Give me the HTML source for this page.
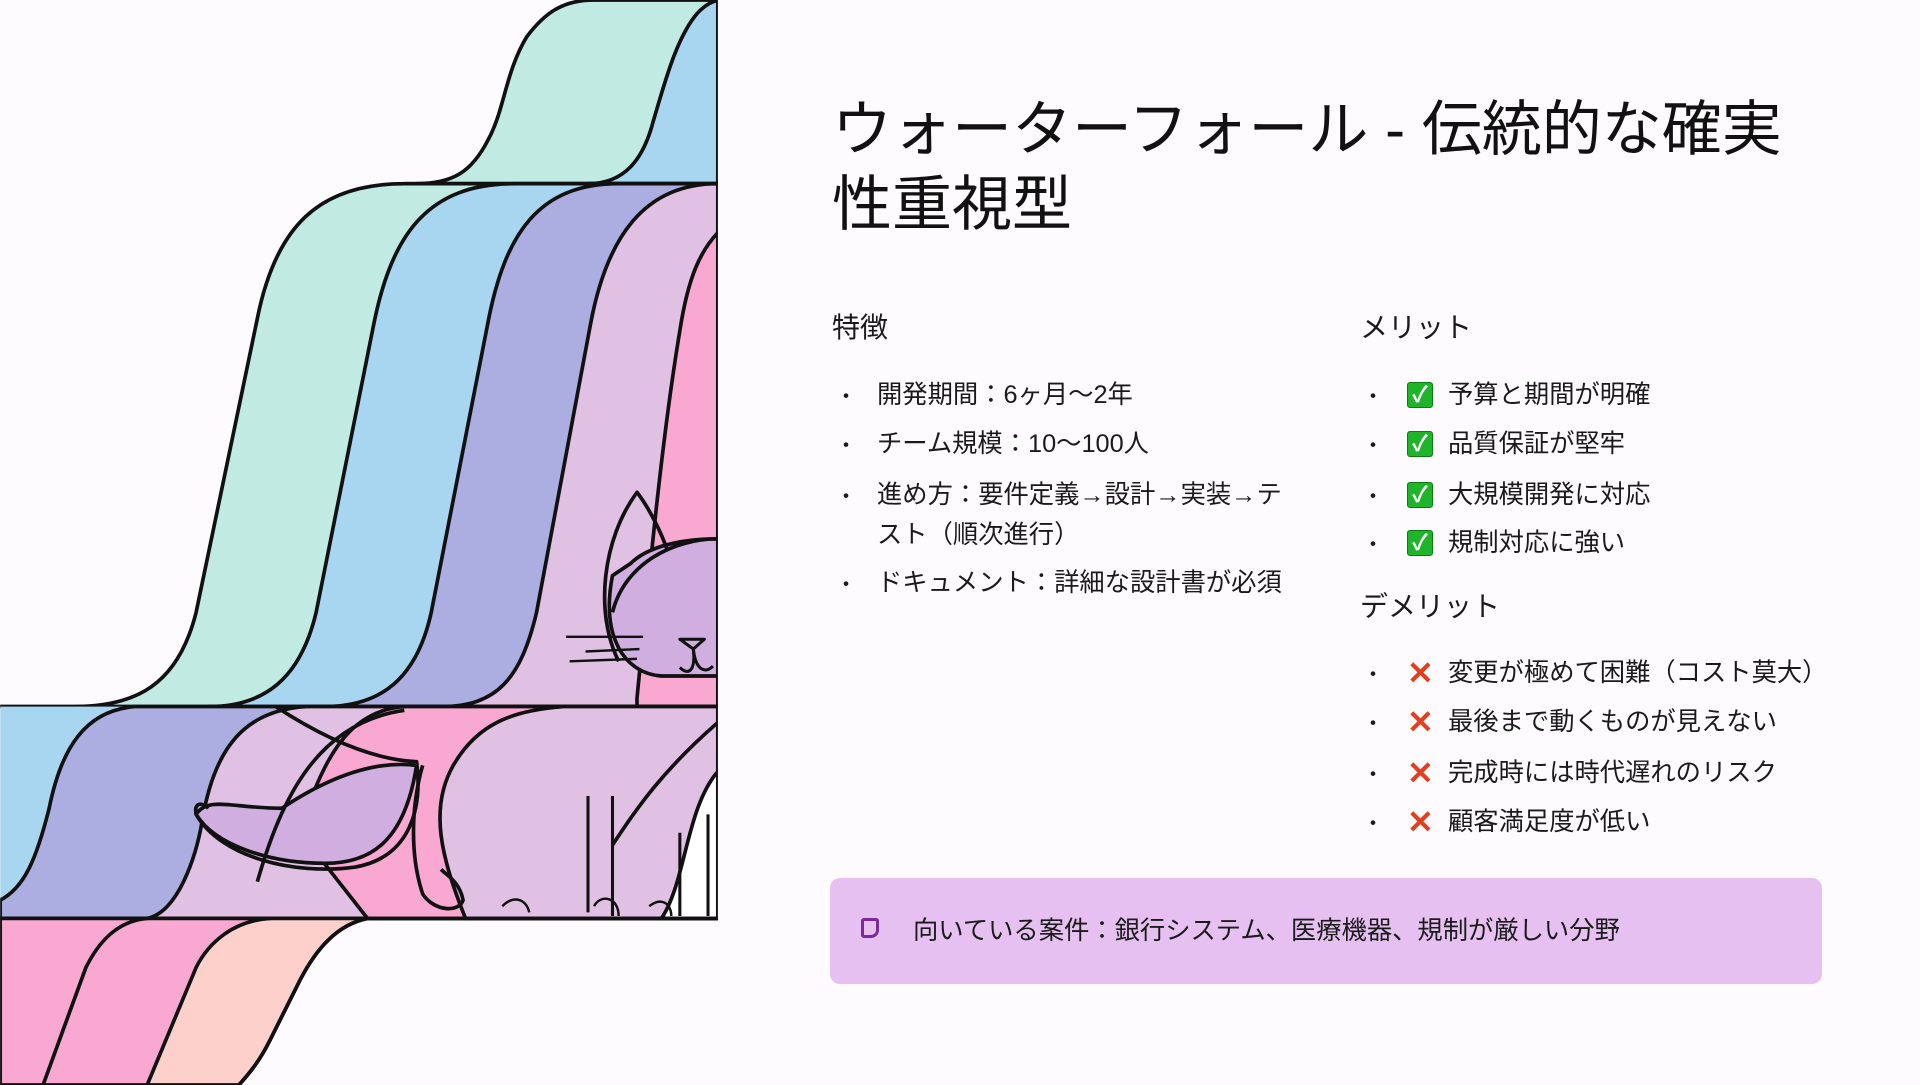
<!DOCTYPE html>
<html><head><meta charset="utf-8"><style>
html,body{margin:0;padding:0}
body{width:1920px;height:1085px;position:relative;overflow:hidden;background:#fdfbfd;font-family:"Liberation Sans","Noto Sans CJK JP",sans-serif;color:#1a1a1a}
.abs{position:absolute;white-space:nowrap}
.title{left:832px;top:92px;font-size:60px;line-height:75px;color:#111;white-space:normal;width:1005px}
.h{font-size:28px;line-height:34px}
.li{font-size:25.3px;line-height:32px}
.dot{font-size:22px}
.ck{width:26px;height:26px;background:#1fb52a;border-radius:3px;border:1px solid #0d7a15;box-sizing:border-box;color:#fff;font-size:22px;line-height:24px;text-align:center;font-weight:bold}
.x{color:#e0401f;font-size:32px;font-weight:bold;line-height:32px}
.box{left:830px;top:878px;width:992px;height:106px;background:#e6c0f1;border-radius:10px}
</style></head><body>
<svg class="abs" style="left:0;top:0" width="718" height="1085" viewBox="0 0 586 886">
<defs><clipPath id="c"><rect x="0" y="0" width="586" height="886"/></clipPath></defs>
<g clip-path="url(#c)" stroke="#111" stroke-width="3" stroke-linejoin="round">
<path d="M340,150 C370,150 385,140 398,115 C412,90 412,60 430,30 C445,10 460,0 485,0 L586,0 L586,150 Z" fill="#c1ebe2"/>
<path d="M480,150 C510,150 525,130 533,100 C542,70 552,30 570,10 C576,4 580,2 586,0 L586,150 Z" fill="#a8d5f0"/>
<path d="M0,577 L60,577 C110,577 145,560 160,500 L210,260 C225,185 260,150 330,150 L586,150 L586,577 Z" fill="#c1ebe2"/>
<path d="M170,577 C215,577 245,555 258,500 L305,265 C320,190 350,150 420,150 L586,150 L586,577 Z" fill="#a8d5f0"/>
<path d="M265,577 C310,577 340,555 352,500 L398,265 C412,190 440,150 505,150 L586,150 L586,577 Z" fill="#acaee2"/>
<path d="M360,577 C405,577 425,555 438,500 L482,265 C495,195 525,150 586,150 L586,577 Z" fill="#e0c0e3"/>
<path d="M520,570 C530,470 540,360 555,270 C562,225 572,205 586,190 L586,577 L520,577 Z" fill="#f9a8d2"/>
<line x1="0" y1="577" x2="586" y2="577"/>
<line x1="330" y1="150" x2="586" y2="150"/>
<rect x="0" y="577" width="586" height="173" fill="#a8d5f0" stroke="none"/>
<path d="M0,735 C20,725 30,700 40,660 C50,610 70,580 110,577 L586,577 L586,750 L0,750 Z" fill="#acaee2"/>
<path d="M120,750 C145,745 160,700 165,670 C175,610 200,580 250,577 L586,577 L586,750 Z" fill="#e0c0e3"/>
<path d="M245,680 C265,610 290,580 330,577 L586,577 L586,750 L300,750 Z" fill="#f9a8d2"/>
<path d="M380,750 C360,700 350,660 370,625 C390,590 420,580 460,577 L586,577 L586,750 Z" fill="#e0c0e3"/>
<path d="M540,750 C560,720 560,660 586,630 L586,750 Z" fill="#fff"/>
<path d="M230,660 C190,660 170,650 160,665 C175,690 220,705 265,705 C300,705 330,690 340,625 C300,620 260,640 230,660 Z" fill="#d1aee0"/>
<line x1="0" y1="750" x2="586" y2="750"/>
<path d="M500,470 C490,520 510,550 540,552 L586,552 L586,440 C560,440 530,445 515,460 Z" fill="#d1aee0"/>
<path d="M505,540 C485,500 492,440 520,402 C530,415 540,435 545,450" fill="none"/>
<path d="M500,500 C510,460 550,440 586,440" fill="none"/>
<path d="M462,520 L525,520 M465,540 L520,538 M478,532 L522,530" fill="none" stroke-width="2"/>
<path d="M555,522 L575,522 L566,530 Z M555,545 C562,552 568,548 566,530 C568,548 576,550 582,544" fill="none" stroke-width="2.5"/>
<path d="M225,577 C260,600 300,620 340,622 C345,660 335,700 290,708 C240,715 180,700 160,665 C158,655 165,655 170,660" fill="none"/>
<path d="M210,720 C230,650 260,590 330,580" fill="none"/>
<path d="M345,625 C335,660 335,700 345,730 C355,745 375,745 378,735 C375,720 365,715 360,710" fill="none"/>
<path d="M480,650 L480,745 M500,650 L500,748 M555,680 L555,748 M578,665 L578,748" fill="none" stroke-width="2.5"/>
<path d="M410,740 C420,730 430,735 432,745 M485,740 C490,730 505,732 505,748 M530,740 C540,732 548,738 548,748" fill="none" stroke-width="2"/>
<path d="M500,690 C520,660 540,630 586,590" fill="none"/>
<path d="M0,750 L300,750 C275,755 258,775 245,800 L220,850 C210,870 200,880 195,886 L0,886 Z" fill="#fdd0cc"/>
<path d="M0,750 L220,750 C190,752 170,770 160,790 L120,886 L0,886 Z" fill="#f9a8d2"/>
<path d="M0,750 L120,750 C95,752 80,770 70,790 L35,886 L0,886 Z" fill="#f9a8d2"/>
<path d="M300,750 C275,755 258,775 245,800 L220,850 C210,870 200,880 195,886" fill="none"/>
</g>
</svg>

<div class="abs title">ウォーターフォール - 伝統的な確実性重視型</div>

<div class="abs h" style="left:832px;top:311px">特徴</div>
<div class="abs dot" style="left:835px;top:379px">・</div><div class="abs li" style="left:877px;top:379px">開発期間：6ヶ月〜2年</div>
<div class="abs dot" style="left:835px;top:428px">・</div><div class="abs li" style="left:877px;top:428px">チーム規模：10〜100人</div>
<div class="abs dot" style="left:835px;top:479px">・</div><div class="abs li" style="left:877px;top:479px">進め方：要件定義→設計→実装→テ</div>
<div class="abs li" style="left:877px;top:519px">スト（順次進行）</div>
<div class="abs dot" style="left:835px;top:567px">・</div><div class="abs li" style="left:877px;top:567px">ドキュメント：詳細な設計書が必須</div>

<div class="abs h" style="left:1360px;top:311px">メリット</div>
<div class="abs dot" style="left:1362px;top:379px">・</div><div class="abs ck" style="left:1407px;top:382px">✓</div><div class="abs li" style="left:1448px;top:379px">予算と期間が明確</div>
<div class="abs dot" style="left:1362px;top:428px">・</div><div class="abs ck" style="left:1407px;top:431px">✓</div><div class="abs li" style="left:1448px;top:428px">品質保証が堅牢</div>
<div class="abs dot" style="left:1362px;top:479px">・</div><div class="abs ck" style="left:1407px;top:482px">✓</div><div class="abs li" style="left:1448px;top:479px">大規模開発に対応</div>
<div class="abs dot" style="left:1362px;top:527px">・</div><div class="abs ck" style="left:1407px;top:530px">✓</div><div class="abs li" style="left:1448px;top:527px">規制対応に強い</div>

<div class="abs h" style="left:1360px;top:590px">デメリット</div>
<div class="abs dot" style="left:1362px;top:657px">・</div><div class="abs x" style="left:1407px;top:657px">✕</div><div class="abs li" style="left:1448px;top:657px">変更が極めて困難（コスト莫大）</div>
<div class="abs dot" style="left:1362px;top:706px">・</div><div class="abs x" style="left:1407px;top:706px">✕</div><div class="abs li" style="left:1448px;top:706px">最後まで動くものが見えない</div>
<div class="abs dot" style="left:1362px;top:757px">・</div><div class="abs x" style="left:1407px;top:757px">✕</div><div class="abs li" style="left:1448px;top:757px">完成時には時代遅れのリスク</div>
<div class="abs dot" style="left:1362px;top:806px">・</div><div class="abs x" style="left:1407px;top:806px">✕</div><div class="abs li" style="left:1448px;top:806px">顧客満足度が低い</div>

<div class="abs box"></div>
<div class="abs" style="left:861px;top:918px;width:18px;height:20px;border:3px solid #7a2a9a;border-radius:3px 3px 8px 3px;box-sizing:border-box"></div>
<div class="abs li" style="left:913px;top:915px">向いている案件：銀行システム、医療機器、規制が厳しい分野</div>
</body></html>
